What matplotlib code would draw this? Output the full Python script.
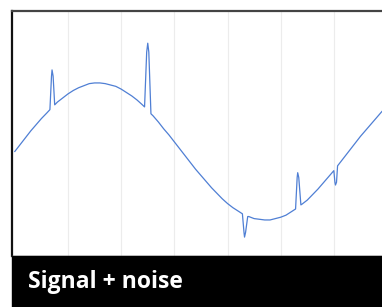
import matplotlib
matplotlib.use("Agg")
import matplotlib.pyplot as plt
from matplotlib.patches import Rectangle

# smooth part of the signal, read every 0.1 along x
base_x = [i / 10 for i in range(71)]
base_y = [0.00, 0.10, 0.20, 0.30, 0.39, 0.48, 0.56, 0.64, 0.72, 0.78,
          0.84, 0.89, 0.93, 0.96, 0.99, 1.00, 1.00, 0.99, 0.97, 0.95,
          0.91, 0.86, 0.81, 0.75, 0.68, 0.60, 0.52, 0.43, 0.33, 0.24,
          0.14, 0.04, -0.06, -0.16, -0.26, -0.35, -0.44, -0.53, -0.61, -0.69,
          -0.76, -0.82, -0.87, -0.92, -0.95, -0.98, -0.99, -1.00, -1.00, -0.98,
          -0.96, -0.93, -0.88, -0.83, -0.77, -0.71, -0.63, -0.55, -0.46, -0.37,
          -0.28, -0.18, -0.08, 0.02, 0.12, 0.22, 0.31, 0.40, 0.49, 0.58,
          0.66]

# noise spikes
spike_x = [[0.66, 0.69, 0.70, 0.72, 0.75],
           [2.44, 2.48, 2.50, 2.52, 2.56],
           [4.28, 4.31, 4.32, 4.34, 4.38],
           [5.28, 5.31, 5.32, 5.34, 5.38],
           [6.00, 6.02, 6.03, 6.05, 6.07]]
spike_y = [[0.61, 1.10, 1.19, 1.10, 0.68],
           [0.65, 1.45, 1.58, 1.45, 0.55],
           [-0.91, -1.18, -1.25, -1.18, -0.95],
           [-0.84, -0.38, -0.31, -0.38, -0.78],
           [-0.28, -0.45, -0.49, -0.45, -0.21]]

title = "Signal + noise"

# merge base curve and spikes
pts = []
for x, y in zip(base_x, base_y):
    if not any(sx[0] <= x <= sx[-1] for sx in spike_x):
        pts.append((x, y))
for sx, sy in zip(spike_x, spike_y):
    pts.extend(zip(sx, sy))
pts.sort()
xs = [p[0] for p in pts]
ys = [p[1] for p in pts]

W, H = 382, 307
fig = plt.figure(figsize=(W / 100, H / 100), dpi=100)

# axes spans past the right edge (picture is cropped there)
left, right, top, bottom = 12, 395, 11, 256
ax = fig.add_axes([left / W, 1 - bottom / H, (right - left) / W, (bottom - top) / H])
ax.plot(xs, ys, color="#4f7fd4", lw=0.9)
ax.set_xlim(-0.053, 7.15)
ax.set_ylim(-1.526, 2.05)
ax.set_xticks(range(1, 8))
ax.set_yticks([])
ax.tick_params(length=0, labelbottom=False)
ax.grid(axis="x", color="#ececec", lw=0.8)
ax.set_axisbelow(True)
ax.spines["right"].set_visible(False)
ax.spines["top"].set_color("#444444")
ax.spines["top"].set_linewidth(1.6)
ax.spines["left"].set_color("#111111")
ax.spines["left"].set_linewidth(1.6)
ax.spines["bottom"].set_color("#888888")
ax.spines["bottom"].set_linewidth(1.0)

# black title banner
fig.patches.append(Rectangle((left / W, 0), 1 - left / W, (H - bottom) / H,
                             transform=fig.transFigure, color="black", zorder=5))
fig.text(28 / W, 19 / H, title, color="white", fontsize=16.5, fontweight="bold",
         family="Open Sans", va="baseline", ha="left", zorder=6)

fig.savefig("out.png", dpi=100)
